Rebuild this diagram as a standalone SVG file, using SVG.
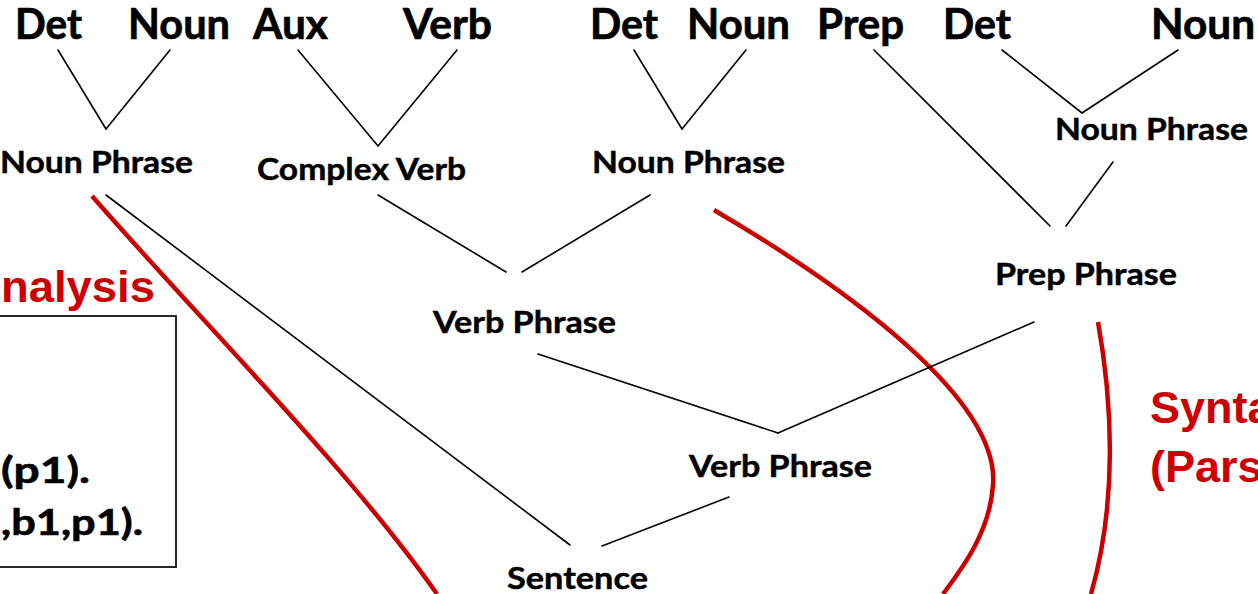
<svg xmlns="http://www.w3.org/2000/svg" width="1258" height="594" viewBox="0 0 1258 594">
  <style>
    .word { font-family: Lato, "Open Sans", "Liberation Sans", sans-serif; font-weight: bold; font-size: 42px; fill: #000; stroke: #000; stroke-width: 0.7; }
    .phrase { font-family: Lato, "Open Sans", "Liberation Sans", sans-serif; font-weight: bold; font-size: 30px; fill: #000; stroke: #000; stroke-width: 0.45; }
    .fact { font-family: Lato, "Open Sans", "Liberation Sans", sans-serif; font-weight: bold; font-size: 36px; fill: #000; stroke: #000; stroke-width: 0.6; }
    .title { font-family: "Liberation Sans", Arial, sans-serif; font-weight: bold; font-size: 45px; fill: #cc0000; }
    .edge { stroke: #000; stroke-width: 1.6; fill: none; stroke-linecap: round; }
    .divider { stroke: #cc0000; stroke-width: 4.5; fill: none; }
  </style>

  <rect width="1258" height="594" fill="#fff"/>

  <!-- red boundaries between analysis stages -->
  <g id="dividers">
    <path class="divider" d="M92,196 C200,320 350,470 437,594"/>
    <path class="divider" d="M714,210 C850,290 1000,400 993,485 C990,530 965,565 943,594"/>
    <path class="divider" d="M1098,322 C1112,400 1118,500 1091,594"/>
  </g>

  <!-- stage titles -->
  <g id="title-left">
    <text class="title" x="1" y="302" textLength="154" lengthAdjust="spacingAndGlyphs">nalysis</text>
  </g>
  <g id="title-right">
    <text class="title" x="1150" y="423">Synta</text>
    <text class="title" x="1150" y="482">(Pars</text>
  </g>

  <!-- logical form box -->
  <g id="facts">
    <rect x="-2" y="316" width="178" height="251" fill="none" stroke="#111" stroke-width="1.8"/>
    <text class="fact" x="1" y="483" textLength="89" lengthAdjust="spacingAndGlyphs">(p1).</text>
    <text class="fact" x="1" y="535" textLength="142" lengthAdjust="spacingAndGlyphs">,b1,p1).</text>
  </g>

  <!-- tree edges -->
  <g id="connectors">
    <line class="edge" x1="58" y1="50" x2="106" y2="129"/>
    <line class="edge" x1="170" y1="50" x2="106" y2="129"/>
    <line class="edge" x1="298" y1="50" x2="378" y2="146"/>
    <line class="edge" x1="457" y1="50" x2="378" y2="146"/>
    <line class="edge" x1="634" y1="50" x2="682" y2="129"/>
    <line class="edge" x1="746" y1="50" x2="682" y2="129"/>
    <line class="edge" x1="874" y1="50" x2="1050" y2="226"/>
    <line class="edge" x1="1002" y1="50" x2="1082" y2="113"/>
    <line class="edge" x1="1178" y1="50" x2="1082" y2="113"/>
    <line class="edge" x1="1113" y1="162" x2="1066" y2="226"/>
    <line class="edge" x1="378" y1="195" x2="506" y2="272"/>
    <line class="edge" x1="650" y1="195" x2="522" y2="272"/>
    <line class="edge" x1="538" y1="354" x2="778" y2="433"/>
    <line class="edge" x1="1034" y1="322" x2="778" y2="433"/>
    <line class="edge" x1="106" y1="195" x2="570" y2="545"/>
    <line class="edge" x1="729" y1="497" x2="602" y2="546"/>
  </g>

  <!-- leaf words -->
  <g id="det1"><text class="word" x="15" y="39" textLength="67" lengthAdjust="spacingAndGlyphs">Det</text></g>
  <g id="noun1"><text class="word" x="128" y="39" textLength="102" lengthAdjust="spacingAndGlyphs">Noun</text></g>
  <g id="aux"><text class="word" x="253" y="39" textLength="75" lengthAdjust="spacingAndGlyphs">Aux</text></g>
  <g id="verb"><text class="word" x="403" y="39" textLength="89" lengthAdjust="spacingAndGlyphs">Verb</text></g>
  <g id="det2"><text class="word" x="590" y="39" textLength="68" lengthAdjust="spacingAndGlyphs">Det</text></g>
  <g id="noun2"><text class="word" x="687" y="39" textLength="103" lengthAdjust="spacingAndGlyphs">Noun</text></g>
  <g id="prep"><text class="word" x="817" y="39" textLength="87" lengthAdjust="spacingAndGlyphs">Prep</text></g>
  <g id="det3"><text class="word" x="943" y="39" textLength="68" lengthAdjust="spacingAndGlyphs">Det</text></g>
  <g id="noun3"><text class="word" x="1151" y="39" textLength="104" lengthAdjust="spacingAndGlyphs">Noun</text></g>

  <!-- phrase nodes -->
  <g id="np1"><text class="phrase" x="0" y="173" textLength="193" lengthAdjust="spacingAndGlyphs">Noun Phrase</text></g>
  <g id="complex-verb"><text class="phrase" x="257" y="180" textLength="209" lengthAdjust="spacingAndGlyphs">Complex Verb</text></g>
  <g id="np2"><text class="phrase" x="592" y="173" textLength="193" lengthAdjust="spacingAndGlyphs">Noun Phrase</text></g>
  <g id="np3"><text class="phrase" x="1055" y="140" textLength="193" lengthAdjust="spacingAndGlyphs">Noun Phrase</text></g>
  <g id="prep-phrase"><text class="phrase" x="995" y="285" textLength="182" lengthAdjust="spacingAndGlyphs">Prep Phrase</text></g>
  <g id="vp1"><text class="phrase" x="433" y="333" textLength="183" lengthAdjust="spacingAndGlyphs">Verb Phrase</text></g>
  <g id="vp2"><text class="phrase" x="689" y="477" textLength="183" lengthAdjust="spacingAndGlyphs">Verb Phrase</text></g>
  <g id="sentence"><text class="phrase" x="507" y="589" textLength="141" lengthAdjust="spacingAndGlyphs">Sentence</text></g>
</svg>
